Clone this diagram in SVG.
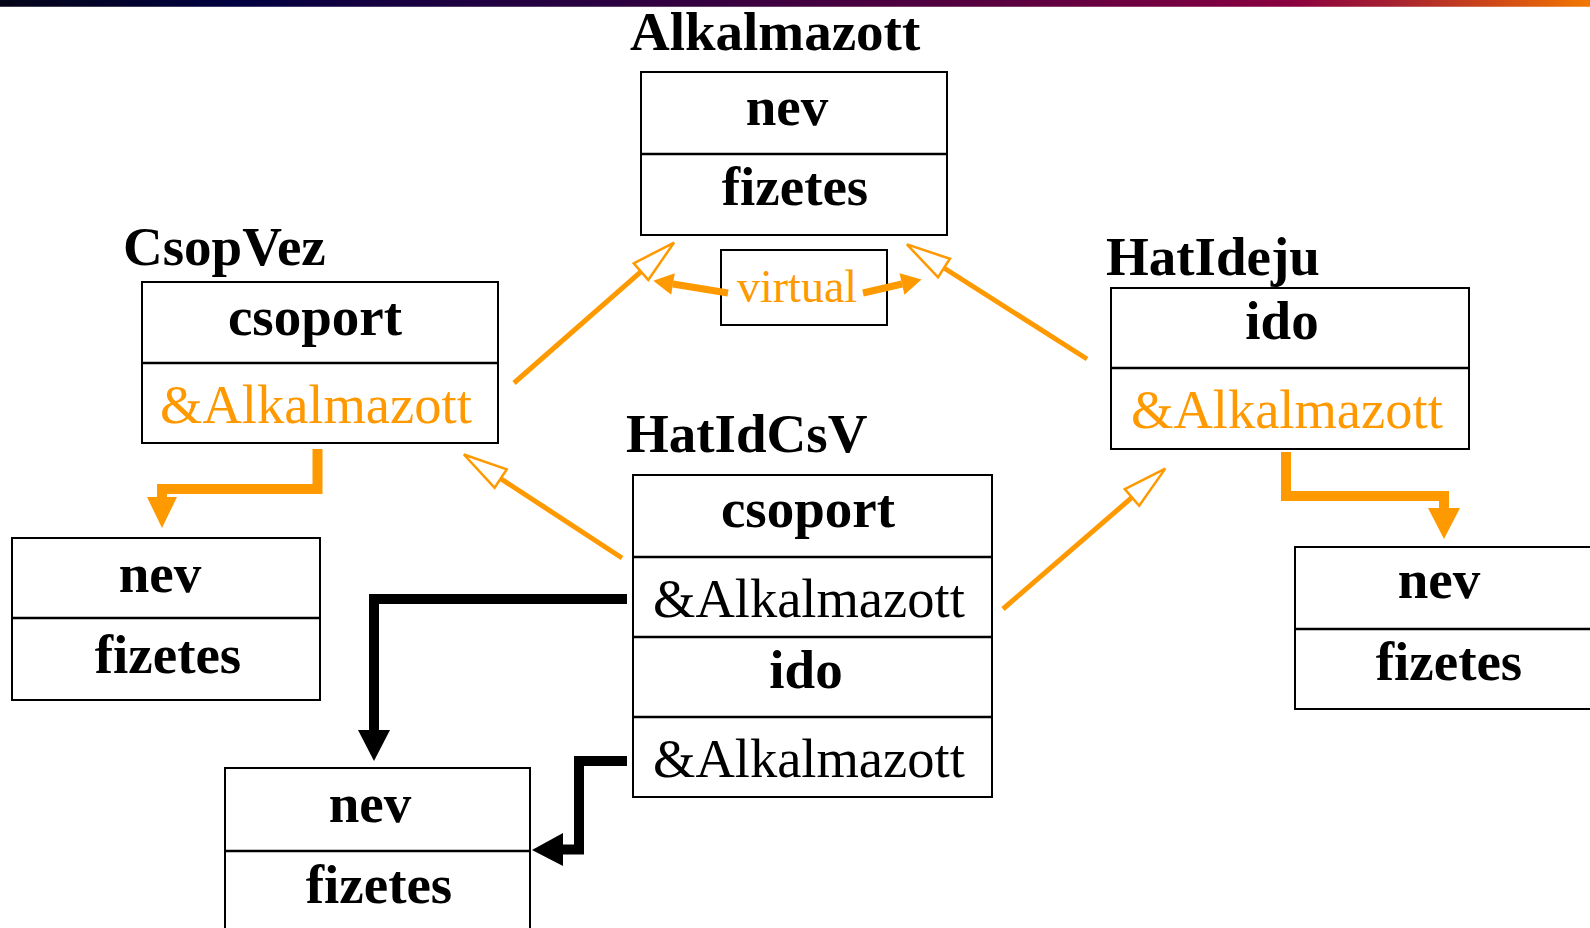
<svg xmlns="http://www.w3.org/2000/svg" width="1590" height="928" viewBox="0 0 1590 928">
  <defs>
    <linearGradient id="topbar" x1="0" y1="0" x2="1" y2="0">
      <stop offset="0" stop-color="#050518"/>
      <stop offset="0.145" stop-color="#000040"/>
      <stop offset="0.25" stop-color="#180040"/>
      <stop offset="0.38" stop-color="#2a0040"/>
      <stop offset="0.63" stop-color="#5a0040"/>
      <stop offset="0.75" stop-color="#780040"/>
      <stop offset="0.81" stop-color="#8a0040"/>
      <stop offset="0.875" stop-color="#a52030"/>
      <stop offset="0.94" stop-color="#d04818"/>
      <stop offset="1" stop-color="#f27800"/>
    </linearGradient>
    <!-- open triangle: inheritance -->
    <marker id="hollow" markerUnits="userSpaceOnUse" viewBox="0 0 46 24" markerWidth="46" markerHeight="24" refX="1" refY="12" orient="auto" overflow="visible">
      <path d="M1,1 L45,12 L1,23 z" fill="#ffffff" stroke="#ff9900" stroke-width="2.5" stroke-linejoin="miter"/>
    </marker>
    <!-- small filled head for the virtual links -->
    <marker id="solid" markerUnits="userSpaceOnUse" viewBox="0 0 20 22" markerWidth="20" markerHeight="22" refX="0" refY="11" orient="auto" overflow="visible">
      <path d="M0,0 L20,11 L0,22 z" fill="#ff9900"/>
    </marker>
  </defs>
  <style>
    .box { fill: #ffffff; stroke: #000000; stroke-width: 2; }
    .div { stroke: #000000; stroke-width: 2.5; }
    .title { font-family: "Liberation Serif", "Times New Roman", serif; font-weight: bold; font-size: 55px; fill: #000000; }
    .field { font-family: "Liberation Serif", "Times New Roman", serif; font-weight: bold; font-size: 55px; fill: #000000; text-anchor: middle; }
    .ref { font-family: "Liberation Serif", "Times New Roman", serif; font-size: 54.5px; fill: #000000; }
    .orange { fill: #ff9900; }
    .inh { fill: none; stroke: #ff9900; stroke-width: 5; marker-end: url(#hollow); }
    .virt { fill: none; stroke: #ff9900; stroke-width: 7; marker-end: url(#solid); }
    .elbowO { fill: none; stroke: #ff9900; stroke-width: 10; stroke-linejoin: miter; }
    .elbowK { fill: none; stroke: #000000; stroke-width: 10; stroke-linejoin: miter; }
    .headO { fill: #ff9900; }
    .headK { fill: #000000; }
  </style>

  <rect width="1590" height="928" fill="#ffffff"/>
  <!-- slide header band -->
  <rect x="0" y="0" width="1590" height="7" fill="url(#topbar)"/>
  <rect x="0" y="6" width="1590" height="1" fill="#ffffff" opacity="0.25"/>

  <g id="alkalmazott">
    <text class="title" x="630" y="50">Alkalmazott</text>
    <rect class="box" x="641" y="72" width="306" height="163"/>
    <line class="div" x1="641" y1="154" x2="947" y2="154"/>
    <text class="field" x="787" y="125">nev</text>
    <text class="field" x="795" y="205">fizetes</text>
  </g>

  <g id="virtual">
    <rect class="box" x="721" y="250" width="166" height="75"/>
    <text class="ref orange" x="737" y="302" style="font-size:46px">virtual</text>
  </g>

  <g id="csopvez">
    <text class="title" x="123" y="265">CsopVez</text>
    <rect class="box" x="142" y="282" width="356" height="161"/>
    <line class="div" x1="142" y1="363" x2="498" y2="363"/>
    <text class="field" x="315" y="335">csoport</text>
    <text class="ref orange" x="160" y="423">&amp;Alkalmazott</text>
  </g>

  <g id="csopvez-alk">
    <rect class="box" x="12" y="538" width="308" height="162"/>
    <line class="div" x1="12" y1="618" x2="320" y2="618"/>
    <text class="field" x="160" y="592">nev</text>
    <text class="field" x="168" y="673">fizetes</text>
  </g>

  <g id="hatideju">
    <text class="title" x="1106" y="275">HatIdeju</text>
    <rect class="box" x="1111" y="288" width="358" height="161"/>
    <line class="div" x1="1111" y1="368" x2="1469" y2="368"/>
    <text class="field" x="1282" y="339">ido</text>
    <text class="ref orange" x="1131" y="428">&amp;Alkalmazott</text>
  </g>

  <g id="hatideju-alk">
    <rect class="box" x="1295" y="547" width="320" height="162"/>
    <line class="div" x1="1295" y1="629" x2="1615" y2="629"/>
    <text class="field" x="1439" y="598">nev</text>
    <text class="field" x="1449" y="680">fizetes</text>
  </g>

  <g id="hatidcsv">
    <text class="title" x="626" y="452">HatIdCsV</text>
    <rect class="box" x="633" y="475" width="359" height="322"/>
    <line class="div" x1="633" y1="557" x2="992" y2="557"/>
    <line class="div" x1="633" y1="637" x2="992" y2="637"/>
    <line class="div" x1="633" y1="717" x2="992" y2="717"/>
    <text class="field" x="808" y="527">csoport</text>
    <text class="ref" x="653" y="617">&amp;Alkalmazott</text>
    <text class="field" x="806" y="688">ido</text>
    <text class="ref" x="653" y="777">&amp;Alkalmazott</text>
  </g>

  <g id="hatidcsv-alk">
    <rect class="box" x="225" y="768" width="305" height="180"/>
    <line class="div" x1="225" y1="851" x2="530" y2="851"/>
    <text class="field" x="370" y="822">nev</text>
    <text class="field" x="379" y="903">fizetes</text>
  </g>

  <g id="connectors">
    <!-- inheritance -->
    <path class="inh" d="M514,383 L641,271.6"/>
    <path class="inh" d="M1087,359 L944,268"/>
    <path class="inh" d="M622,558 L500.7,478.6"/>
    <path class="inh" d="M1003,609 L1132,497.4"/>
    <!-- virtual links -->
    <path class="virt" d="M728,293 L673,284"/>
    <path class="virt" d="M863,293 L902,284"/>
    <!-- embedded parts -->
    <path class="elbowO" d="M317.5,449 V489 H162 V498"/>
    <polygon class="headO" points="147,497 177,497 162,528"/>
    <path class="elbowO" d="M1286,452 V496 H1444 V509"/>
    <polygon class="headO" points="1428,508 1460,508 1444,539"/>
    <path class="elbowK" d="M627,599 H374 V731"/>
    <polygon class="headK" points="358,730 390,730 374,761"/>
    <path class="elbowK" d="M627,761 H579 V849.5 H562"/>
    <polygon class="headK" points="563,833 563,866 532,850"/>
  </g>
</svg>
